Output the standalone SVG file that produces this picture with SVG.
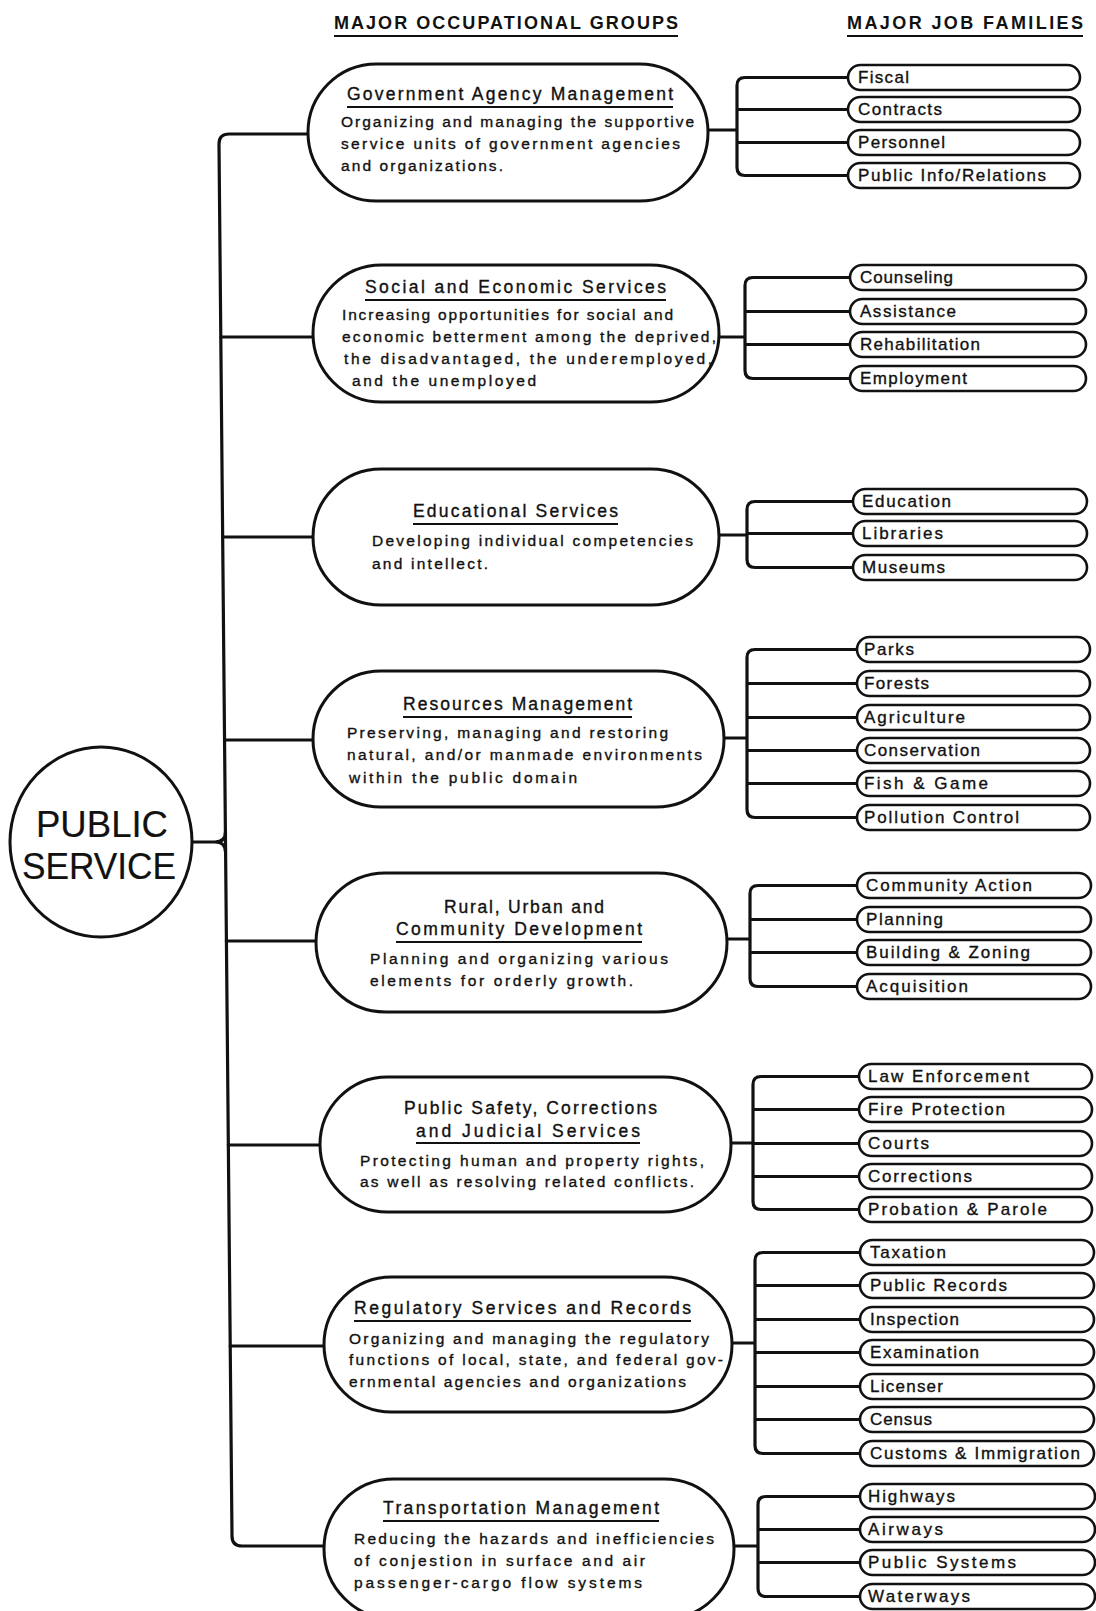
<svg xmlns="http://www.w3.org/2000/svg" width="1096" height="1611" viewBox="0 0 1096 1611">
<style>
.bg{fill:#fff}
.node{fill:#fff;stroke:#111;stroke-width:3}
.fam{fill:#fff;stroke:#111;stroke-width:2.6}
.conn{fill:none;stroke:#111;stroke-width:3.2;stroke-linecap:round;stroke-linejoin:round}
.ul{stroke:#111;stroke-width:2}
text{font-family:"Liberation Sans",Arial,sans-serif;fill:#111;stroke:#111;stroke-width:0.35}
.hd{font-size:18px;font-weight:bold;stroke-width:0}
.ti{font-size:17.5px}
.de{font-size:15.5px}
.ft{font-size:17px}
.big{font-size:37px;stroke-width:0.2}
</style>
<rect class="bg" x="0" y="0" width="1096" height="1611"/>

<g id="headers">
<text class="hd" x="334" y="29" textLength="344" lengthAdjust="spacing">MAJOR OCCUPATIONAL GROUPS</text>
<line class="ul" x1="334" y1="36" x2="678" y2="36"/>
<text class="hd" x="847" y="29" textLength="236" lengthAdjust="spacing">MAJOR JOB FAMILIES</text>
<line class="ul" x1="847" y1="36" x2="1083" y2="36"/>
</g>

<g id="connectors">
<path class="conn" d="M308,134 H229 Q219,134 219,144 L225.5,842 L232,1536 Q232,1546 242,1546 H324"/>
<path class="conn" d="M192,842 H215 Q225.5,842 225.5,832 M215,842 Q225.5,842 225.5,852"/>
<path class="conn" d="M220.9,337 H313 M222.6,537 H313 M224.5,740 H313 M226.3,941 H316 M228.3,1145 H320 M230.2,1346 H324"/>
<path class="conn" d="M708,130 H737 M848,77.5 H745 Q737,77.5 737,85.5 V167.5 Q737,175.5 745,175.5 H848 M737,109.5 H848 M737,142.5 H848"/>
<path class="conn" d="M719,337 H745 M850,277.5 H753 Q745,277.5 745,285.5 V370.5 Q745,378.5 753,378.5 H850 M745,311.5 H850 M745,344.5 H850"/>
<path class="conn" d="M719,535 H747 M853,501.5 H755 Q747,501.5 747,509.5 V559.5 Q747,567.5 755,567.5 H853 M747,533.5 H853"/>
<path class="conn" d="M724,738 H747 M857,649.5 H755 Q747,649.5 747,657.5 V809.5 Q747,817.5 755,817.5 H857 M747,683.5 H857 M747,717.5 H857 M747,750.5 H857 M747,783.5 H857"/>
<path class="conn" d="M727,939 H750 M857,885.5 H758 Q750,885.5 750,893.5 V978.5 Q750,986.5 758,986.5 H857 M750,919.5 H857 M750,952.5 H857"/>
<path class="conn" d="M731,1143 H753 M859,1076.5 H761 Q753,1076.5 753,1084.5 V1201.5 Q753,1209.5 761,1209.5 H859 M753,1109.5 H859 M753,1143.5 H859 M753,1176.5 H859"/>
<path class="conn" d="M732,1343 H755 M860,1252.5 H763 Q755,1252.5 755,1260.5 V1445.5 Q755,1453.5 763,1453.5 H860 M755,1285.5 H860 M755,1319.5 H860 M755,1352.5 H860 M755,1386.5 H860 M755,1419.5 H860"/>
<path class="conn" d="M734,1546 H758 M860,1496.5 H766 Q758,1496.5 758,1504.5 V1588.5 Q758,1596.5 766,1596.5 H860 M758,1529.5 H860 M758,1562.5 H860"/>
</g>

<g id="public-service">
<ellipse class="node" cx="101" cy="842" rx="91" ry="95"/>
<text class="big" x="36" y="837" textLength="132" lengthAdjust="spacingAndGlyphs">PUBLIC</text>
<text class="big" x="22" y="879" textLength="154" lengthAdjust="spacingAndGlyphs">SERVICE</text>
</g>

<g id="gov">
<rect class="node" x="308" y="64" width="400" height="137" rx="68.5"/>
<text class="ti" x="347" y="100" textLength="326" lengthAdjust="spacing">Government Agency Management</text>
<line class="ul" x1="347" y1="107" x2="673" y2="107"/>
<text class="de" x="341" y="127" textLength="353" lengthAdjust="spacing">Organizing and managing the supportive</text>
<text class="de" x="341" y="149" textLength="339" lengthAdjust="spacing">service units of government agencies</text>
<text class="de" x="341" y="171" textLength="162" lengthAdjust="spacing">and organizations.</text>
</g>

<g id="social">
<rect class="node" x="313" y="265" width="406" height="137" rx="68.5"/>
<text class="ti" x="365" y="293" textLength="301" lengthAdjust="spacing">Social and Economic Services</text>
<line class="ul" x1="365" y1="300" x2="666" y2="300"/>
<text class="de" x="342" y="320" textLength="331" lengthAdjust="spacing">Increasing opportunities for social and</text>
<text class="de" x="342" y="342" textLength="374" lengthAdjust="spacing">economic betterment among the deprived,</text>
<text class="de" x="344" y="364" textLength="368" lengthAdjust="spacing">the disadvantaged, the underemployed,</text>
<text class="de" x="352" y="386" textLength="184" lengthAdjust="spacing">and the unemployed</text>
</g>

<g id="edu">
<rect class="node" x="313" y="469" width="406" height="136" rx="68"/>
<text class="ti" x="413" y="517" textLength="205" lengthAdjust="spacing">Educational Services</text>
<line class="ul" x1="413" y1="524" x2="618" y2="524"/>
<text class="de" x="372" y="546" textLength="321" lengthAdjust="spacing">Developing individual competencies</text>
<text class="de" x="372" y="569" textLength="116" lengthAdjust="spacing">and intellect.</text>
</g>

<g id="resources">
<rect class="node" x="313" y="671" width="411" height="136" rx="68"/>
<text class="ti" x="403" y="710" textLength="229" lengthAdjust="spacing">Resources Management</text>
<line class="ul" x1="403" y1="717" x2="632" y2="717"/>
<text class="de" x="347" y="738" textLength="321" lengthAdjust="spacing">Preserving, managing and restoring</text>
<text class="de" x="347" y="760" textLength="355" lengthAdjust="spacing">natural, and/or manmade environments</text>
<text class="de" x="349" y="783" textLength="228" lengthAdjust="spacing">within the public domain</text>
</g>

<g id="rural">
<rect class="node" x="316" y="873" width="411" height="139" rx="69.5"/>
<text class="ti" x="444" y="913" textLength="160" lengthAdjust="spacing">Rural, Urban and</text>
<text class="ti" x="396" y="935" textLength="246" lengthAdjust="spacing">Community Development</text>
<line class="ul" x1="396" y1="942" x2="642" y2="942"/>
<text class="de" x="370" y="964" textLength="298" lengthAdjust="spacing">Planning and organizing various</text>
<text class="de" x="370" y="986" textLength="263" lengthAdjust="spacing">elements for orderly growth.</text>
</g>

<g id="safety">
<rect class="node" x="320" y="1077" width="411" height="135" rx="67.5"/>
<text class="ti" x="404" y="1114" textLength="253" lengthAdjust="spacing">Public Safety, Corrections</text>
<text class="ti" x="416" y="1137" textLength="224" lengthAdjust="spacing">and Judicial Services</text>
<line class="ul" x1="416" y1="1143" x2="640" y2="1143"/>
<text class="de" x="360" y="1166" textLength="344" lengthAdjust="spacing">Protecting human and property rights,</text>
<text class="de" x="360" y="1187" textLength="334" lengthAdjust="spacing">as well as resolving related conflicts.</text>
</g>

<g id="regulatory">
<rect class="node" x="324" y="1277" width="408" height="135" rx="67.5"/>
<text class="ti" x="354" y="1314" textLength="337" lengthAdjust="spacing">Regulatory Services and Records</text>
<line class="ul" x1="354" y1="1321" x2="691" y2="1321"/>
<text class="de" x="349" y="1344" textLength="360" lengthAdjust="spacing">Organizing and managing the regulatory</text>
<text class="de" x="349" y="1365" textLength="374" lengthAdjust="spacing">functions of local, state, and federal gov-</text>
<text class="de" x="349" y="1387" textLength="337" lengthAdjust="spacing">ernmental agencies and organizations</text>
</g>

<g id="transportation">
<rect class="node" x="324" y="1479" width="410" height="140" rx="70"/>
<text class="ti" x="383" y="1514" textLength="276" lengthAdjust="spacing">Transportation Management</text>
<line class="ul" x1="383" y1="1521" x2="659" y2="1521"/>
<text class="de" x="354" y="1544" textLength="360" lengthAdjust="spacing">Reducing the hazards and inefficiencies</text>
<text class="de" x="354" y="1566" textLength="291" lengthAdjust="spacing">of conjestion in surface and air</text>
<text class="de" x="354" y="1588" textLength="288" lengthAdjust="spacing">passenger-cargo flow systems</text>
</g>

<g id="families-gov">
<rect class="fam" x="848" y="65" width="232" height="25" rx="12.5"/><text class="ft" x="858" y="83" textLength="51" lengthAdjust="spacing">Fiscal</text>
<rect class="fam" x="848" y="97" width="232" height="25" rx="12.5"/><text class="ft" x="858" y="115" textLength="84" lengthAdjust="spacing">Contracts</text>
<rect class="fam" x="848" y="130" width="232" height="25" rx="12.5"/><text class="ft" x="858" y="148" textLength="87" lengthAdjust="spacing">Personnel</text>
<rect class="fam" x="848" y="163" width="232" height="25" rx="12.5"/><text class="ft" x="858" y="181" textLength="188" lengthAdjust="spacing">Public Info/Relations</text>
</g>

<g id="families-social">
<rect class="fam" x="850" y="265" width="236" height="25" rx="12.5"/><text class="ft" x="860" y="283" textLength="93" lengthAdjust="spacing">Counseling</text>
<rect class="fam" x="850" y="299" width="236" height="25" rx="12.5"/><text class="ft" x="860" y="317" textLength="96" lengthAdjust="spacing">Assistance</text>
<rect class="fam" x="850" y="332" width="236" height="25" rx="12.5"/><text class="ft" x="860" y="350" textLength="120" lengthAdjust="spacing">Rehabilitation</text>
<rect class="fam" x="850" y="366" width="236" height="25" rx="12.5"/><text class="ft" x="860" y="384" textLength="107" lengthAdjust="spacing">Employment</text>
</g>

<g id="families-edu">
<rect class="fam" x="853" y="489" width="234" height="25" rx="12.5"/><text class="ft" x="862" y="507" textLength="89" lengthAdjust="spacing">Education</text>
<rect class="fam" x="853" y="521" width="234" height="25" rx="12.5"/><text class="ft" x="862" y="539" textLength="81" lengthAdjust="spacing">Libraries</text>
<rect class="fam" x="853" y="555" width="234" height="25" rx="12.5"/><text class="ft" x="862" y="573" textLength="83" lengthAdjust="spacing">Museums</text>
</g>

<g id="families-resources">
<rect class="fam" x="857" y="637" width="233" height="25" rx="12.5"/><text class="ft" x="864" y="655" textLength="50" lengthAdjust="spacing">Parks</text>
<rect class="fam" x="857" y="671" width="233" height="25" rx="12.5"/><text class="ft" x="864" y="689" textLength="65" lengthAdjust="spacing">Forests</text>
<rect class="fam" x="857" y="705" width="233" height="25" rx="12.5"/><text class="ft" x="864" y="723" textLength="101" lengthAdjust="spacing">Agriculture</text>
<rect class="fam" x="857" y="738" width="233" height="25" rx="12.5"/><text class="ft" x="864" y="756" textLength="116" lengthAdjust="spacing">Conservation</text>
<rect class="fam" x="857" y="771" width="233" height="25" rx="12.5"/><text class="ft" x="864" y="789" textLength="124" lengthAdjust="spacing">Fish &amp; Game</text>
<rect class="fam" x="857" y="805" width="233" height="25" rx="12.5"/><text class="ft" x="864" y="823" textLength="155" lengthAdjust="spacing">Pollution Control</text>
</g>

<g id="families-rural">
<rect class="fam" x="857" y="873" width="234" height="25" rx="12.5"/><text class="ft" x="866" y="891" textLength="166" lengthAdjust="spacing">Community Action</text>
<rect class="fam" x="857" y="907" width="234" height="25" rx="12.5"/><text class="ft" x="866" y="925" textLength="77" lengthAdjust="spacing">Planning</text>
<rect class="fam" x="857" y="940" width="234" height="25" rx="12.5"/><text class="ft" x="866" y="958" textLength="164" lengthAdjust="spacing">Building &amp; Zoning</text>
<rect class="fam" x="857" y="974" width="234" height="25" rx="12.5"/><text class="ft" x="866" y="992" textLength="102" lengthAdjust="spacing">Acquisition</text>
</g>

<g id="families-safety">
<rect class="fam" x="859" y="1064" width="233" height="25" rx="12.5"/><text class="ft" x="868" y="1082" textLength="161" lengthAdjust="spacing">Law Enforcement</text>
<rect class="fam" x="859" y="1097" width="233" height="25" rx="12.5"/><text class="ft" x="868" y="1115" textLength="137" lengthAdjust="spacing">Fire Protection</text>
<rect class="fam" x="859" y="1131" width="233" height="25" rx="12.5"/><text class="ft" x="868" y="1149" textLength="61" lengthAdjust="spacing">Courts</text>
<rect class="fam" x="859" y="1164" width="233" height="25" rx="12.5"/><text class="ft" x="868" y="1182" textLength="104" lengthAdjust="spacing">Corrections</text>
<rect class="fam" x="859" y="1197" width="233" height="25" rx="12.5"/><text class="ft" x="868" y="1215" textLength="179" lengthAdjust="spacing">Probation &amp; Parole</text>
</g>

<g id="families-regulatory">
<rect class="fam" x="860" y="1240" width="234" height="25" rx="12.5"/><text class="ft" x="870" y="1258" textLength="76" lengthAdjust="spacing">Taxation</text>
<rect class="fam" x="860" y="1273" width="234" height="25" rx="12.5"/><text class="ft" x="870" y="1291" textLength="137" lengthAdjust="spacing">Public Records</text>
<rect class="fam" x="860" y="1307" width="234" height="25" rx="12.5"/><text class="ft" x="870" y="1325" textLength="89" lengthAdjust="spacing">Inspection</text>
<rect class="fam" x="860" y="1340" width="234" height="25" rx="12.5"/><text class="ft" x="870" y="1358" textLength="109" lengthAdjust="spacing">Examination</text>
<rect class="fam" x="860" y="1374" width="234" height="25" rx="12.5"/><text class="ft" x="870" y="1392" textLength="73" lengthAdjust="spacing">Licenser</text>
<rect class="fam" x="860" y="1407" width="234" height="25" rx="12.5"/><text class="ft" x="870" y="1425" textLength="62" lengthAdjust="spacing">Census</text>
<rect class="fam" x="860" y="1441" width="234" height="25" rx="12.5"/><text class="ft" x="870" y="1459" textLength="210" lengthAdjust="spacing">Customs &amp; Immigration</text>
</g>

<g id="families-transportation">
<rect class="fam" x="860" y="1484" width="235" height="25" rx="12.5"/><text class="ft" x="868" y="1502" textLength="87" lengthAdjust="spacing">Highways</text>
<rect class="fam" x="860" y="1517" width="235" height="25" rx="12.5"/><text class="ft" x="868" y="1535" textLength="75" lengthAdjust="spacing">Airways</text>
<rect class="fam" x="860" y="1550" width="235" height="25" rx="12.5"/><text class="ft" x="868" y="1568" textLength="148" lengthAdjust="spacing">Public Systems</text>
<rect class="fam" x="860" y="1584" width="235" height="25" rx="12.5"/><text class="ft" x="868" y="1602" textLength="102" lengthAdjust="spacing">Waterways</text>
</g>
</svg>
